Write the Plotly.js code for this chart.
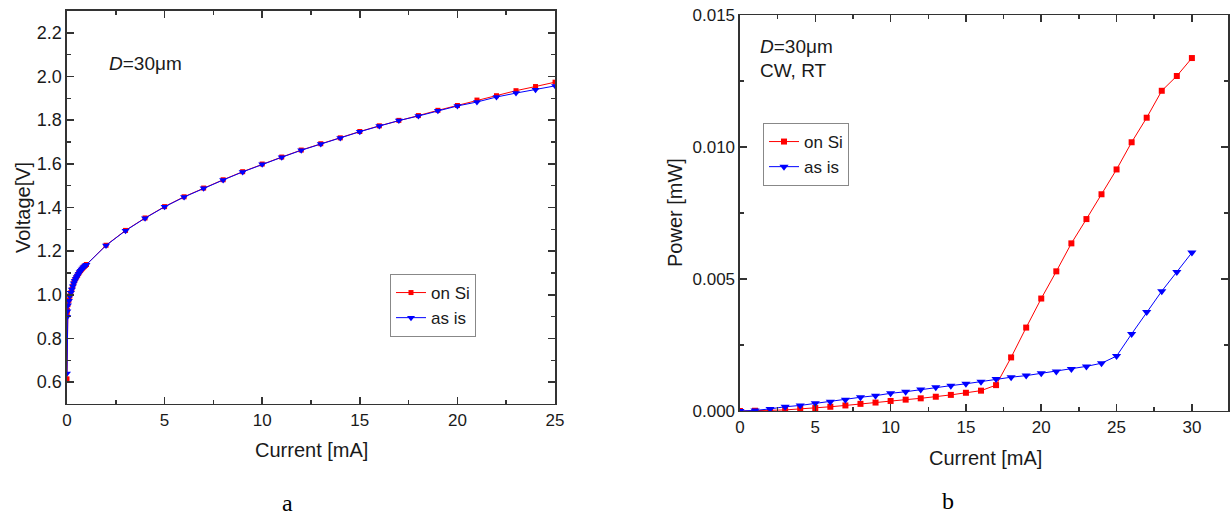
<!DOCTYPE html>
<html>
<head>
<meta charset="utf-8">
<script src="https://cdn.plot.ly/plotly-3.0.1.min.js"></script>
<style>html,body{margin:0;padding:0;background:#fff;}#chart{width:1231px;height:516px;}</style>
</head>
<body>
<div id="chart"></div>
<script>
// ---- Panel a: V-I ----
const currentA = [0, 0.01, 0.02, 0.05, 0.1, 0.15, 0.2, 0.25, 0.3, 0.35, 0.4, 0.45, 0.5, 0.55, 0.6, 0.65, 0.7, 0.75, 0.8, 0.85, 0.9, 0.95, 1.0,
  2, 3, 4, 5, 6, 7, 8, 9, 10, 11, 12, 13, 14, 15, 16, 17, 18, 19, 20, 21, 22, 23, 24, 25];
const voltageOnSi = [0.615, 0.91, 0.93, 0.955, 0.975, 0.995, 1.01, 1.025, 1.04, 1.055, 1.065, 1.075, 1.083, 1.09, 1.098, 1.105, 1.111, 1.117, 1.122, 1.127, 1.131, 1.135, 1.139,
  1.227, 1.295, 1.352, 1.404, 1.449, 1.489, 1.527, 1.564, 1.599, 1.631, 1.663, 1.692, 1.719, 1.748, 1.774, 1.799, 1.821, 1.845, 1.867, 1.892, 1.912, 1.935, 1.954, 1.974];
const voltageAsIs = [0.64, 0.90, 0.925, 0.952, 0.973, 0.993, 1.009, 1.024, 1.039, 1.053, 1.064, 1.074, 1.082, 1.089, 1.097, 1.104, 1.110, 1.116, 1.121, 1.126, 1.130, 1.134, 1.138,
  1.226, 1.294, 1.351, 1.403, 1.448, 1.488, 1.526, 1.563, 1.598, 1.630, 1.662, 1.691, 1.718, 1.747, 1.773, 1.798, 1.819, 1.843, 1.865, 1.883, 1.906, 1.924, 1.939, 1.957];

// ---- Panel b: L-I ----
const currentB = [0, 1, 2, 3, 4, 5, 6, 7, 8, 9, 10, 11, 12, 13, 14, 15, 16, 17, 18, 19, 20, 21, 22, 23, 24, 25, 26, 27, 28, 29, 30];
const powerOnSi = [0, 0.00001, 0.00002, 0.00004, 0.00008, 0.00011, 0.00016, 0.00021, 0.00027, 0.00032, 0.00038, 0.00043, 0.00048, 0.00054, 0.00061, 0.00069, 0.00077, 0.00098,
  0.00203, 0.00316, 0.00426, 0.00529, 0.00635, 0.00727, 0.00821, 0.00915, 0.01018, 0.01111, 0.01213, 0.01269, 0.01337];
const powerAsIs = [0, 0.00002, 0.00008, 0.00016, 0.00021, 0.00029, 0.00035, 0.00043, 0.00052, 0.00058, 0.00067, 0.00073, 0.00081, 0.0009, 0.00096, 0.00103, 0.00111, 0.00121,
  0.00128, 0.00134, 0.00143, 0.0015, 0.00159, 0.00169, 0.00181, 0.00208, 0.00292, 0.00375, 0.00454, 0.00527, 0.006];

const seriesNames = ['on Si', 'as is'];
const axisTitles = {xa: 'Current [mA]', ya: 'Voltage[V]', xb: 'Current [mA]', yb: 'Power [mW]'};
const FONT = 'Liberation Sans, Arial, sans-serif';
const AX = '#333333';
const TXT = '#1a1a1a';

const red = '#ff0000', blue = '#0000ff';
const traces = [
  {x: currentA, y: voltageOnSi, name: seriesNames[0], mode: 'lines+markers', xaxis: 'x', yaxis: 'y', legend: 'legend',
   line: {color: red, width: 1}, marker: {symbol: 'square', size: 5, color: red}},
  {x: currentA, y: voltageAsIs, name: seriesNames[1], mode: 'lines+markers', xaxis: 'x', yaxis: 'y', legend: 'legend',
   line: {color: blue, width: 1}, marker: {symbol: 'triangle-down', size: 7, color: blue}},
  {x: currentB, y: powerOnSi, name: seriesNames[0], mode: 'lines+markers', xaxis: 'x2', yaxis: 'y2', legend: 'legend2',
   line: {color: red, width: 1}, marker: {symbol: 'square', size: 6, color: red}},
  {x: currentB, y: powerAsIs, name: seriesNames[1], mode: 'lines+markers', xaxis: 'x2', yaxis: 'y2', legend: 'legend2',
   line: {color: blue, width: 1}, marker: {symbol: 'triangle-down', size: 8, color: blue}}
];

function axisBase(extra) {
  return Object.assign({
    showline: true, mirror: 'ticks', linecolor: AX, linewidth: 1.5,
    ticks: 'inside', ticklen: 7, tickwidth: 1.5, tickcolor: AX,
    showgrid: false, zeroline: false, fixedrange: true,
    tickfont: {family: FONT, size: 17, color: TXT}
  }, extra);
}
const minorTicks = (d) => ({dtick: d, ticks: 'inside', ticklen: 4, tickcolor: AX, tickwidth: 1.5});

function note(x, y, text, size, extra) {
  return Object.assign({xref: 'paper', yref: 'paper', x: x / 1231, y: 1 - y / 516, xanchor: 'center', yanchor: 'middle',
    showarrow: false, text: text, font: {family: FONT, size: size, color: TXT}}, extra || {});
}

const layout = {
  width: 1231, height: 516,
  margin: {l: 0, r: 0, t: 0, b: 0},
  paper_bgcolor: '#ffffff', plot_bgcolor: '#ffffff',
  font: {family: FONT, color: TXT},
  xaxis: axisBase({domain: [0.0544, 0.4509], range: [0, 25], dtick: 5, anchor: 'y', minor: minorTicks(2.5)}),
  yaxis: axisBase({domain: [0.2171, 0.9787], range: [0.5, 2.3], dtick: 0.2, tickformat: '.1f', anchor: 'x', minor: minorTicks(0.1),
    tickfont: {family: FONT, size: 18, color: TXT}}),
  xaxis2: axisBase({domain: [0.6011, 0.9976], range: [0, 32.4], dtick: 5, anchor: 'y2', minor: minorTicks(2.5)}),
  yaxis2: axisBase({domain: [0.2035, 0.9709], range: [0, 0.015], dtick: 0.005, tickformat: '.3f', anchor: 'x2', minor: minorTicks(0.0025)}),
  legend: {x: 390 / 1231, y: 1 - 274 / 516, xanchor: 'left', yanchor: 'top', bgcolor: '#ffffff',
    bordercolor: '#888888', borderwidth: 1, font: {family: FONT, size: 17, color: TXT}},
  legend2: {x: 763 / 1231, y: 1 - 123 / 516, xanchor: 'left', yanchor: 'top', bgcolor: '#ffffff',
    bordercolor: '#888888', borderwidth: 1, font: {family: FONT, size: 17, color: TXT}},
  showlegend: true,
  annotations: [
    note(311, 450, axisTitles.xa, 20),
    note(23, 208, axisTitles.ya, 20, {textangle: -90}),
    note(985, 458, axisTitles.xb, 20),
    note(675, 213, axisTitles.yb, 20, {textangle: -90}),
    note(107, 63, '<i>D</i>=30μm', 19, {xanchor: 'left'}),
    note(758, 47, '<i>D</i>=30μm', 19, {xanchor: 'left'}),
    note(758, 70, 'CW, RT', 19, {xanchor: 'left'}),
    note(287, 503, 'a', 24, {font: {family: 'Liberation Serif, Times New Roman, serif', size: 24, color: '#000'}}),
    note(948, 501, 'b', 24, {font: {family: 'Liberation Serif, Times New Roman, serif', size: 24, color: '#000'}})
  ]
};

Plotly.newPlot('chart', traces, layout, {staticPlot: true, displayModeBar: false});
</script>
</body>
</html>
